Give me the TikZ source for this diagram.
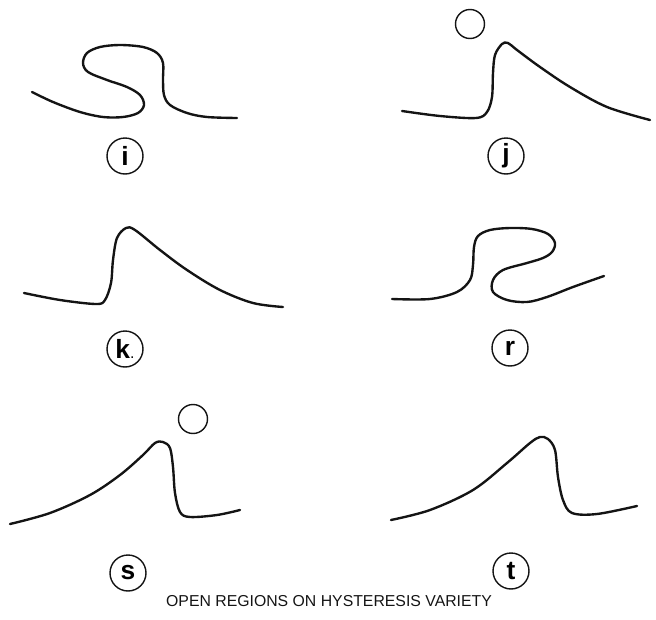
\documentclass[tikz,border=0pt]{standalone}
\usepackage{fontspec}
\setsansfont{Liberation Sans}
\usetikzlibrary{positioning}
\definecolor{cink}{HTML}{141414}
\tikzset{
  every picture/.style={font=\sffamily, line width=1.3pt},
  curve/.style={draw=cink, line width=1.35pt, line cap=round, line join=round},
  tag/.style={circle, draw=cink, line width=0.8pt, minimum size=0.72cm, inner sep=0pt, font=\sffamily\bfseries\fontsize{15}{15}\selectfont},
  hole/.style={circle, draw=cink, line width=0.8pt, minimum size=0.58cm, inner sep=0pt},
  caption/.style={font=\sffamily\fontsize{9}{9}\selectfont, text=cink},
}

\begin{document}
\begin{tikzpicture}[x=0.02cm, y=-0.02cm]
  \useasboundingbox (0,0) rectangle (656,619);
  % ---- top row: i and j ----
  \draw[curve] plot[smooth, tension=0.55] coordinates {(32,92) (53,102) (80,112) (103,117) (123,117) (138,113) (144,105) (140,95) (127,87) (107,80) (88,72) (83,63) (87,53) (100,47) (120,45) (143,47) (157,53) (163,63) (163,80) (164,95) (170,105) (187,113) (207,117) (237,118)};
  \node[tag] (ti) at (125,156) {i};
  \draw[curve] plot[smooth, tension=0.55] coordinates {(402,111) (440,116) (476,118) (487,112) (492,97) (493,73) (495,55) (502,44) (508,43) (517,50) (540,67) (570,87) (607,107) (650,120)};
  \node[hole] (hj) at (470,24) {};
  \node[tag] (tj) at (506,156) {j};
  % ---- middle row: k and r ----
  \draw[curve] plot[smooth, tension=0.55] coordinates {(24,293) (60,300) (96,304) (105,300) (111,283) (113,260) (117,238) (126,228) (135,230) (160,250) (187,270) (220,290) (253,303) (283,307)};
  \node[tag] (tk) at (125,349) {k{\mdseries\small.}};
  \draw[curve] plot[smooth, tension=0.55] coordinates {(392,299) (430,299) (457,292) (470,280) (473,265) (474,247) (478,236) (490,230) (510,228) (532,229) (548,234) (555,243) (552,252) (543,258) (527,263) (503,270) (493,280) (493,292) (507,300) (527,302) (547,297) (573,287) (604,276)};
  \node[tag] (tr) at (510,348) {r};
  % ---- bottom row: s and t ----
  \draw[curve] plot[smooth, tension=0.55] coordinates {(10,524) (50,513) (90,495) (120,475) (143,455) (155,443) (163,442) (170,448) (173,467) (175,493) (180,512) (190,517) (217,515) (240,510)};
  \node[hole] (hs) at (193,419) {};
  \node[tag] (ts) at (128,573) {s};
  \draw[curve] plot[smooth, tension=0.55] coordinates {(391,520) (430,510) (473,490) (507,463) (530,443) (540,437) (548,439) (555,450) (558,477) (563,500) (572,513) (597,514) (637,506)};
  \node[tag] (tt) at (511,571) {t};
  \node[caption] (cap) at (329,601) {OPEN REGIONS ON HYSTERESIS VARIETY};
\end{tikzpicture}
\end{document}
